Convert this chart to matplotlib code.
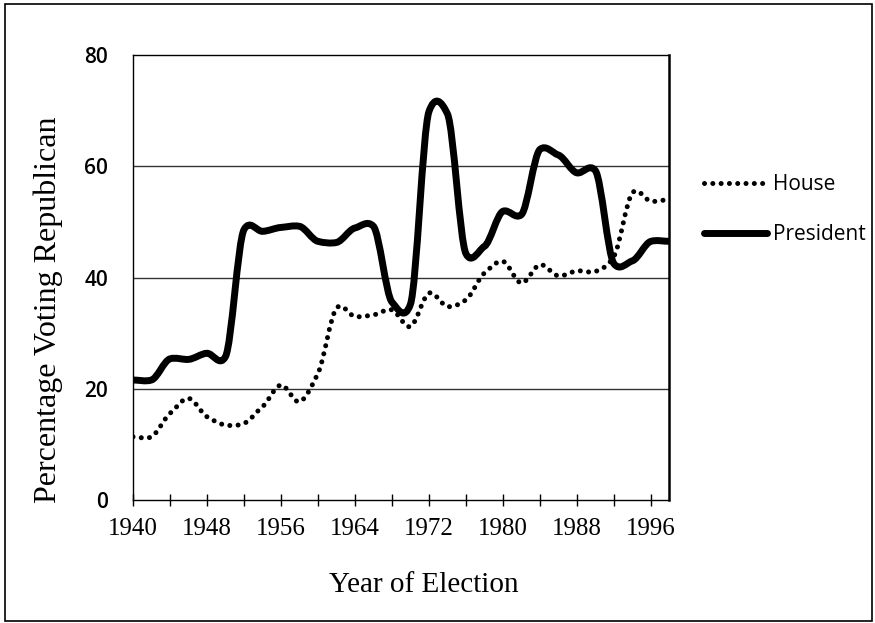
# 共和党投票率の推移 (House / President)

import numpy as np
import matplotlib
matplotlib.use("Agg")
import matplotlib.pyplot as plt
from matplotlib.path import Path
from matplotlib.patches import PathPatch, Rectangle
from matplotlib.lines import Line2D

# データ
years = list(range(1940, 1999, 2))
house = [11.4, 11.4, 15.6, 18.3, 15.0, 13.5, 13.8, 16.8, 20.7, 17.7,
         22.8, 34.5, 33.0, 33.3, 34.2, 31.2, 37.2, 34.8, 36.0, 40.8,
         42.9, 39.0, 42.3, 40.3, 41.2, 41.1, 43.8, 55.2, 53.7, 54.0]
president = [21.6, 21.6, 25.4, 25.3, 26.4, 25.8, 48.6, 48.3, 49.0, 49.2,
             46.5, 46.3, 48.9, 49.2, 35.6, 35.2, 69.8, 69.4, 44.3, 45.6,
             51.9, 51.3, 63.0, 62.0, 58.8, 59.2, 42.5, 43.0, 46.5, 46.5]
series_names = ["House", "President"]
xtick_labels = [1940, 1948, 1956, 1964, 1972, 1980, 1988, 1996]
ytick_labels = [0, 20, 40, 60, 80]


# なめらかな線 (張力を弱めたカーディナルスプライン -> ベジェ曲線)
def smooth_path(x, y, k=0.55):
    x = np.asarray(x, float)
    y = np.asarray(y, float)
    m = np.zeros_like(y)
    m[1:-1] = k * (y[2:] - y[:-2]) / (x[2:] - x[:-2])
    h = np.diff(x)
    verts = [(x[0], y[0])]
    codes = [Path.MOVETO]
    for i in range(len(x) - 1):
        verts += [(x[i] + h[i] / 3, y[i] + m[i] * h[i] / 3),
                  (x[i + 1] - h[i] / 3, y[i + 1] - m[i + 1] * h[i] / 3),
                  (x[i + 1], y[i + 1])]
        codes += [Path.CURVE4] * 3
    return Path(verts, codes)


fig = plt.figure(figsize=(8.75, 6.23), dpi=100)
ax = fig.add_axes([0.152, 0.197, 0.613, 0.715])

serif = "Liberation Serif"
sans = "Open Sans"

# 補助線
for v in [20, 40, 60]:
    ax.axhline(v, color="#333333", lw=1.0, zorder=1)

# House (点線)
ax.add_patch(PathPatch(smooth_path(years, house, 0.8), fill=False, ec="black",
                       lw=3.6, ls=(0, (0.01, 1.65)), capstyle="round", zorder=3))
# President (太線)
ax.add_patch(PathPatch(smooth_path(years, president), fill=False, ec="black",
                       lw=5.0, capstyle="round", joinstyle="round", zorder=4))

ax.set_xlim(1940, 1998)
ax.set_ylim(0, 80)

ax.set_xticks(range(1940, 1998, 4), minor=True)
ax.set_xticks(xtick_labels)
ax.set_xticklabels([str(v) for v in xtick_labels], fontfamily=serif, fontsize=18)
ax.tick_params(axis="x", which="both", direction="inout", length=9, width=1, pad=8)
ax.set_yticks(ytick_labels)
ax.set_yticklabels([str(v) for v in ytick_labels], fontfamily=sans, fontsize=15,
                   fontweight="semibold")
ax.tick_params(axis="y", length=0, pad=18)

for s in ax.spines.values():
    s.set_linewidth(1.0)
ax.spines["right"].set_linewidth(1.8)

ax.set_xlabel("Year of Election", fontfamily=serif, fontsize=21)
ax.xaxis.set_label_coords(0.543, -0.162)
ax.set_ylabel("Percentage Voting Republican", fontfamily=serif, fontsize=23)
ax.yaxis.set_label_coords(-0.13, 0.427)

# 凡例
handles = [Line2D([], [], color="black", lw=3.6, ls=(0, (0.01, 1.65)), dash_capstyle="round"),
           Line2D([], [], color="black", lw=5.0, solid_capstyle="round")]
ax.legend(handles, series_names, loc="upper left", bbox_to_anchor=(1.03, 0.775),
          frameon=False, handlelength=3.0, handletextpad=0.3, labelspacing=1.4,
          prop={"family": sans, "size": 15})

# 外枠
fig.patches.append(Rectangle((0.006, 0.004), 0.99, 0.99, transform=fig.transFigure,
                             fill=False, ec="black", lw=1.2))

plt.savefig("out.png", dpi=100)
